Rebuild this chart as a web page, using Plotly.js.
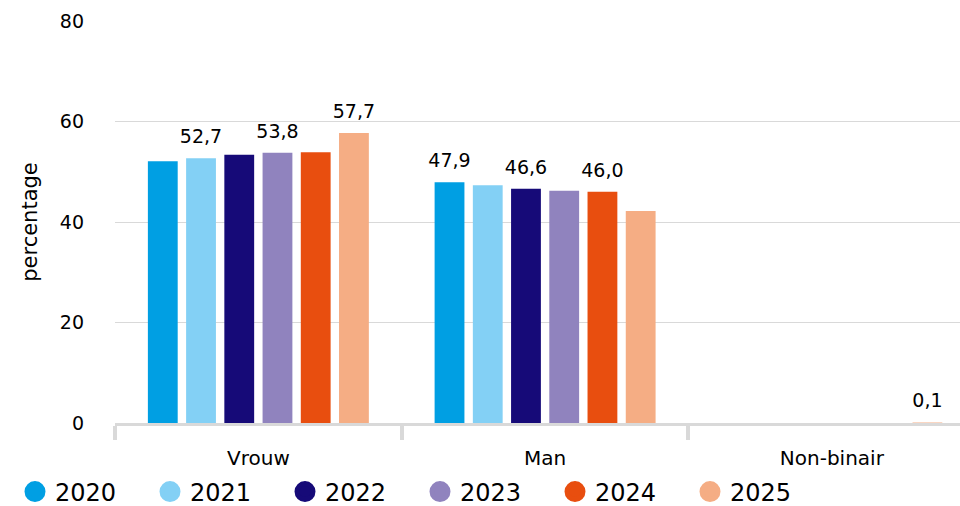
<!DOCTYPE html>
<html>
<head>
<meta charset="utf-8">
<script src="https://cdn.plot.ly/plotly-3.0.1.min.js"></script>
<style>html,body{margin:0;padding:0;background:#fff;}#chart{width:960px;height:506px;}</style>
</head>
<body>
<div id="chart"></div>
<script>
// ---- data ----
const categories = ['Vrouw', 'Man', 'Non-binair'];
const years = ['2020', '2021', '2022', '2023', '2024', '2025'];
const v2020 = [52.1, 47.9, null];
const v2021 = [52.7, 47.3, null];
const v2022 = [53.4, 46.6, null];
const v2023 = [53.8, 46.2, null];
const v2024 = [53.9, 46.0, null];
const v2025 = [57.7, 42.2, 0.1];
// which value labels are visible in the original
const show2020 = [false, true, false];
const show2021 = [true, false, false];
const show2022 = [false, true, false];
const show2023 = [true, false, false];
const show2024 = [false, true, false];
const show2025 = [true, false, true];
const yTicks = [0, 20, 40, 60, 80];

const values = [v2020, v2021, v2022, v2023, v2024, v2025];
const shows = [show2020, show2021, show2022, show2023, show2024, show2025];
const colors = ['#009fe3', '#83d0f5', '#160a78', '#9083be', '#e84e0f', '#f5ad84'];

const fmt = v => v.toFixed(1).replace('.', ',');
const FONT = 'DejaVu Sans, Verdana, sans-serif';

const traces = [];
years.forEach((yr, i) => {
  traces.push({
    type: 'bar', name: yr, x: categories, y: values[i],
    offsetgroup: 'g' + yr, alignmentgroup: 'all',
    marker: {color: colors[i]}, showlegend: false,
    hovertemplate: '%{x} ' + yr + ': %{y}<extra></extra>'
  });
});
years.forEach((yr, i) => {
  traces.push({
    type: 'scatter', mode: 'markers+text', name: yr, x: categories, y: values[i],
    offsetgroup: 'g' + yr, alignmentgroup: 'all',
    text: values[i].map((v, j) => (v !== null && shows[i][j]) ? fmt(v) : ''),
    textposition: 'top center',
    textfont: {family: FONT, size: 19, color: '#000'},
    marker: {size: 15, opacity: 0, color: colors[i]},
    hoverinfo: 'skip', showlegend: false, cliponaxis: false
  });
});
years.forEach((yr, i) => {
  traces.push({
    type: 'scatter', mode: 'markers', name: yr, x: [categories[0]], y: [null],
    offsetgroup: 'g' + yr, alignmentgroup: 'all',
    marker: {size: 16, symbol: 'circle', color: colors[i], line: {color: colors[i], width: 5}},
    hoverinfo: 'skip', showlegend: true
  });
});

const layout = {
  width: 960, height: 506,
  margin: {l: 115, r: 0, t: 21, b: 83},
  paper_bgcolor: '#fff', plot_bgcolor: '#fff',
  font: {family: FONT, color: '#000', size: 19},
  barmode: 'group', bargap: 0.2, bargroupgap: 0.22,
  scattermode: 'group', scattergap: 0.2,
  separators: ',.',
  showlegend: true,
  legend: {
    orientation: 'h', xref: 'container', yref: 'container',
    x: 15 / 960, xanchor: 'left', y: 14 / 506, yanchor: 'middle',
    bgcolor: 'rgba(0,0,0,0)',
    font: {family: FONT, size: 24, color: '#000'},
    entrywidth: 90, entrywidthmode: 'pixels', traceorder: 'normal'
  },
  xaxis: {
    type: 'category', range: [-0.5, 2.447], fixedrange: true,
    showline: true, linecolor: '#d9d9d9', linewidth: 3,
    ticks: 'outside', tickson: 'boundaries', ticklen: 14, tickwidth: 4, tickcolor: '#d9d9d9',
    ticklabelstandoff: 15,
    showgrid: false, zeroline: false,
    tickfont: {family: FONT, size: 20, color: '#000'}
  },
  yaxis: {
    range: [0, 80], tickvals: yTicks, ticktext: yTicks.map(String), fixedrange: true,
    showgrid: true, gridcolor: '#d9d9d9', gridwidth: 1,
    zeroline: false, showline: false, ticks: '',
    ticklabelstandoff: 30,
    tickfont: {family: FONT, size: 19, color: '#000'},
    title: {text: 'percentage', font: {family: FONT, size: 21, color: '#000'}, standoff: 16}
  }
};

Plotly.newPlot('chart', traces, layout, {displayModeBar: false, staticPlot: true});
</script>
</body>
</html>
